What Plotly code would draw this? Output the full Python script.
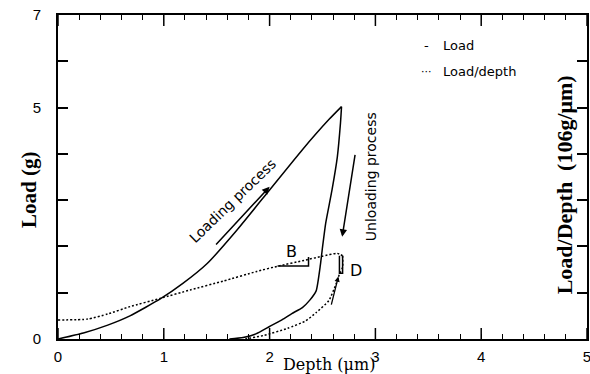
import plotly.graph_objects as go

# ---- data ----
loading_depth = [0, 0.24, 0.47, 0.68, 0.97, 1.18, 1.41, 1.69, 2.0, 2.31, 2.56, 2.68]
loading_load = [0, 0.13, 0.30, 0.50, 0.87, 1.20, 1.63, 2.35, 3.22, 4.09, 4.74, 5.02]

unloading_depth = [2.68, 2.67, 2.64, 2.59, 2.53, 2.50, 2.48, 2.44, 2.38, 2.31, 2.21, 2.12, 2.0, 1.87, 1.75, 1.62]
unloading_load = [5.02, 4.67, 3.93, 3.22, 2.50, 1.98, 1.60, 1.04, 0.84, 0.68, 0.55, 0.42, 0.27, 0.11, 0.03, 0]

ratio_load_depth = [0, 0.28, 0.47, 0.68, 0.97, 1.25, 1.56, 1.88, 2.09, 2.31, 2.50, 2.64, 2.69]
ratio_load_value = [0.41, 0.43, 0.54, 0.70, 0.88, 1.06, 1.25, 1.46, 1.58, 1.69, 1.79, 1.85, 1.80]

ratio_unload_depth = [2.69, 2.69, 2.66, 2.63, 2.56, 2.44, 2.34, 2.17, 1.95, 1.77]
ratio_unload_value = [1.80, 1.55, 1.40, 1.20, 0.83, 0.57, 0.39, 0.23, 0.08, 0]

x_major_ticks = [0, 1, 2, 3, 4, 5]
x_all_ticks = [i / 5 for i in range(26)]
x_all_ticktext = [str(int(v)) if abs(v - round(v)) < 1e-9 else "" for v in x_all_ticks]
y_ticks = [0, 1, 2, 3, 4, 5, 6, 7]
y_ticktext = ["0", "", "", "", "", "5", "", "7"]

fig = go.Figure()

solid = dict(color="black", width=1.5, shape="spline", smoothing=0.5)
dotted = dict(color="black", width=1.5, dash="2px,2px", shape="spline", smoothing=0.5)

fig.add_trace(go.Scatter(x=loading_depth, y=loading_load, mode="lines", line=solid, name="Load"))
fig.add_trace(go.Scatter(x=unloading_depth, y=unloading_load, mode="lines", line=solid, name="Load"))
fig.add_trace(go.Scatter(x=ratio_load_depth, y=ratio_load_value, mode="lines", line=dotted,
                         name="Load/depth", yaxis="y2"))
fig.add_trace(go.Scatter(x=ratio_unload_depth, y=ratio_unload_value, mode="lines", line=dotted,
                         name="Load/depth", yaxis="y2"))

tickfont = dict(family="Liberation Sans", size=15, color="black")

fig.update_layout(
    width=590, height=374,
    margin=dict(l=58, r=3, t=15, b=35),
    paper_bgcolor="white", plot_bgcolor="white",
    showlegend=False,
    xaxis=dict(range=[0, 5], tickvals=x_all_ticks, ticktext=x_all_ticktext, ticks="inside",
               ticklen=5, tickwidth=1.3, tickcolor="black", showline=True, linecolor="black",
               linewidth=2, mirror="ticks", showgrid=False, zeroline=False, tickfont=tickfont,
               ticklabelstandoff=3, ticklabeloverflow="allow", automargin=False),
    yaxis=dict(range=[0, 7], tickvals=y_ticks, ticktext=y_ticktext, ticks="inside", ticklen=10,
               tickwidth=1.5, tickcolor="black", showline=True, linecolor="black", linewidth=2,
               showgrid=False, zeroline=False, tickfont=tickfont, ticklabelstandoff=12,
               ticklabeloverflow="allow", automargin=False),
    yaxis2=dict(range=[0, 7], overlaying="y", side="right", tickvals=y_ticks, ticks="inside",
                ticklen=10, tickwidth=1.5, tickcolor="black", showline=True, linecolor="black",
                linewidth=2, showgrid=False, zeroline=False, showticklabels=False,
                automargin=False),
)

# longer ticks at the integer depths (bottom and top)
for xv in x_major_ticks:
    fig.add_shape(type="line", xref="x", yref="paper", x0=xv, x1=xv, ysizemode="pixel",
                  yanchor=0, y0=0, y1=11, line=dict(color="black", width=1.5))
    fig.add_shape(type="line", xref="x", yref="paper", x0=xv, x1=xv, ysizemode="pixel",
                  yanchor=1, y0=0, y1=-11, line=dict(color="black", width=1.5))

ann_font = dict(family="DejaVu Sans", size=14, color="black")
leg_font = dict(family="DejaVu Sans", size=13, color="black")
serif_bold = dict(family="Liberation Serif", size=21, color="black")

annotations = [
    dict(x=1.648, y=2.98, text="Loading process", textangle=-44, showarrow=False, font=ann_font),
    dict(x=2.96, y=3.50, text="Unloading process", textangle=-90, showarrow=False, font=ann_font),
    dict(x=2.21, y=1.90, text="B", showarrow=False, font=dict(family="DejaVu Sans", size=16, color="black")),
    dict(x=2.82, y=1.49, text="D", showarrow=False, font=dict(family="DejaVu Sans", size=16, color="black")),
    # legend
    dict(x=3.48, y=6.35, text="-", showarrow=False, font=leg_font),
    dict(x=3.62, y=6.35, text="Load", showarrow=False, xanchor="left", font=leg_font),
    dict(x=3.48, y=5.77, text="···", showarrow=False, font=dict(family="DejaVu Sans", size=11, color="black")),
    dict(x=3.62, y=5.77, text="Load/depth", showarrow=False, xanchor="left", font=leg_font),
    # arrows
    dict(x=2.0, y=3.29, ax=1.481, ay=2.01, axref="x", ayref="y", text="", showarrow=True,
         arrowhead=2, arrowsize=1, arrowwidth=1.5, arrowcolor="black"),
    dict(x=2.686, y=2.21, ax=2.81, ay=4.01, axref="x", ayref="y", text="", showarrow=True,
         arrowhead=2, arrowsize=1, arrowwidth=1.5, arrowcolor="black"),
    dict(x=2.65, y=1.35, ax=2.58, ay=0.71, axref="x", ayref="y", text="", showarrow=True,
         arrowhead=2, arrowsize=0.8, arrowwidth=1.3, arrowcolor="black"),
    # axis titles
    dict(xref="paper", yref="paper", x=0, y=0.46, xshift=-29, xanchor="center", yanchor="middle",
         text="<b>Load (g)</b>", textangle=-90, showarrow=False, font=serif_bold),
    dict(xref="paper", yref="paper", x=0.957, y=0.475, xanchor="center", yanchor="middle",
         text="<b>Load/Depth  (106g/μm)</b>", textangle=-90, showarrow=False,
         font=dict(family="Liberation Serif", size=22, color="black")),
    dict(xref="paper", yref="paper", x=0.512, y=0, yshift=-25, xanchor="center", yanchor="middle",
         text="Depth (μm)", showarrow=False,
         font=dict(family="DejaVu Serif", size=16, color="black")),
]
fig.update_layout(annotations=annotations)

# slope markers
fig.add_shape(type="path", path="M 2.075 1.577 L 2.368 1.577 L 2.368 1.77",
              line=dict(color="black", width=1.5))
fig.add_shape(type="path", path="M 2.66 1.80 L 2.66 1.42 L 2.69 1.42 L 2.69 1.80",
              line=dict(color="black", width=1.5))

fig.write_html("out.html", config={"displayModeBar": False},
               post_script="document.body.style.margin='0';document.body.style.overflow='hidden';")
